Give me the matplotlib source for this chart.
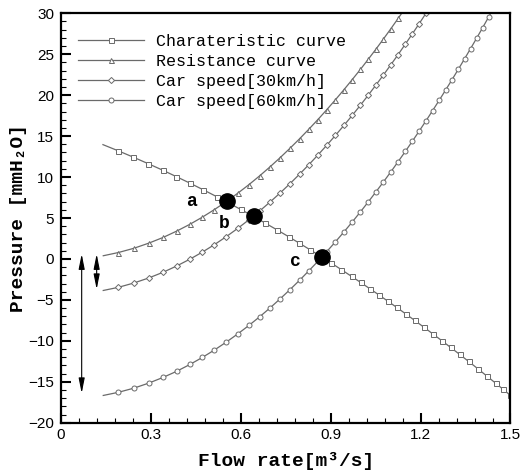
import matplotlib
matplotlib.use("Agg")
import matplotlib.pyplot as plt
from matplotlib.lines import Line2D
from matplotlib.ticker import MultipleLocator

# Values
char_flow = [0.14, 0.19, 0.24, 0.29, 0.34, 0.385, 0.43, 0.475, 0.52, 0.56,
             0.60, 0.64, 0.68, 0.72, 0.76, 0.795, 0.83, 0.865, 0.90, 0.935,
             0.97, 1.00, 1.03, 1.06, 1.09, 1.12, 1.15, 1.18, 1.21, 1.24,
             1.27, 1.30, 1.33, 1.36, 1.39, 1.42, 1.45, 1.475, 1.50]
char_press = [13.96, 13.22, 12.45, 11.65, 10.83, 10.05, 9.26, 8.44, 7.60, 6.83,
              6.04, 5.24, 4.41, 3.57, 2.71, 1.93, 1.15, 0.35, -0.46, -1.29,
              -2.14, -2.87, -3.62, -4.37, -5.14, -5.91, -6.70, -7.50, -8.31, -9.13,
              -9.96, -10.80, -11.65, -12.51, -13.38, -14.27, -15.16, -15.91, -16.67]

flow = [0.141, 0.191, 0.243, 0.293, 0.341, 0.386, 0.430, 0.472, 0.512, 0.551,
        0.590, 0.627, 0.663, 0.697, 0.731, 0.764, 0.796, 0.827, 0.857, 0.887,
        0.916, 0.944, 0.972, 0.999, 1.025, 1.051, 1.076, 1.101, 1.125, 1.149,
        1.172, 1.195, 1.218, 1.240, 1.262, 1.284, 1.305, 1.326, 1.347, 1.367,
        1.387, 1.407, 1.427, 1.447]

resist_press = [0.39, 0.78, 1.30, 1.93, 2.63, 3.40, 4.23, 5.11, 6.03, 6.99,
                8.03, 9.07, 10.15, 11.23, 12.36, 13.51, 14.67, 15.84, 17.01, 18.23,
                19.45, 20.66, 21.91, 23.14, 24.37, 25.62, 26.86, 28.13, 29.37, 30.64]

car30_press = [-3.85, -3.47, -2.94, -2.32, -1.62, -0.86, -0.03, 0.84, 1.75, 2.71,
               3.74, 4.78, 5.86, 6.93, 8.05, 9.19, 10.35, 11.51, 12.68, 13.89,
               15.10, 16.30, 17.54, 18.77, 19.99, 21.24, 22.47, 23.73, 24.96, 26.23,
               27.46, 28.72, 30.00, 31.25]

car60_press = [-16.67, -16.29, -15.78, -15.16, -14.46, -13.72, -12.89, -12.02, -11.12, -10.17,
               -9.15, -8.12, -7.06, -6.00, -4.88, -3.75, -2.61, -1.45, -0.30, 0.90,
               2.10, 3.29, 4.52, 5.74, 6.95, 8.19, 9.41, 10.65, 11.88, 13.13,
               14.35, 15.60, 16.87, 18.11, 19.37, 20.66, 21.90, 23.17, 24.46, 25.70,
               26.96, 28.24, 29.54, 30.86]

# operating points a, b, c
op_labels = ["a", "b", "c"]
op_flow = [0.553, 0.643, 0.870]
op_press = [7.05, 5.2, 0.22]
op_text_flow = [0.436, 0.545, 0.781]
op_text_press = [7.0, 4.35, -0.35]

# pressure offsets shown by arrows: (flow, top, bottom)
arrows = [(0.069, 0.6, -16.4), (0.119, 0.6, -3.7)]

curves = [
    ("Charateristic curve", char_flow, char_press, "s"),
    ("Resistance curve", flow[:len(resist_press)], resist_press, "^"),
    ("Car speed[30km/h]", flow[:len(car30_press)], car30_press, "D"),
    ("Car speed[60km/h]", flow[:len(car60_press)], car60_press, "o"),
]

mono = ["Liberation Mono", "DejaVu Sans Mono"]
gray = "#6a6a6a"

fig = plt.figure(figsize=(5.3, 4.73), dpi=100)
ax = fig.add_axes([0.1151, 0.1063, 0.8481, 0.8656])

handles = []
for label, xs, ys, mk in curves:
    ms = 3.6 if mk != "D" else 3.1
    ax.plot(xs, ys, color=gray, lw=0.9, marker=mk, ms=ms, mfc="white",
            mec=gray, mew=0.7, markevery=slice(1, None), zorder=2)
    handles.append(Line2D([], [], color=gray, lw=0.9, marker=mk, ms=ms,
                          mfc="white", mec=gray, mew=0.7))

ax.plot(op_flow, op_press, "o", color="black", ms=11, zorder=4)
for lab, tx, ty in zip(op_labels, op_text_flow, op_text_press):
    ax.text(tx, ty, lab, family=mono, fontsize=13, fontweight="bold",
            ha="center", va="center", zorder=5)

for ax_x, top, bot in arrows:
    ax.annotate("", xy=(ax_x, top), xytext=(ax_x, bot),
                arrowprops=dict(arrowstyle="<|-|>,head_width=0.18,head_length=0.9",
                                color="black", lw=0.8, shrinkA=0, shrinkB=0))

ax.set_xlim(0, 1.5)
ax.set_ylim(-20, 30)
ax.xaxis.set_major_locator(MultipleLocator(0.3))
ax.xaxis.set_minor_locator(MultipleLocator(0.06))
ax.yaxis.set_major_locator(MultipleLocator(5))
ax.yaxis.set_minor_locator(MultipleLocator(1))
ax.xaxis.set_major_formatter(plt.FuncFormatter(lambda v, p: "0" if abs(v) < 1e-9 else f"{v:g}"))

ax.tick_params(which="both", direction="in", top=False, right=False,
               labelsize=11, color="black")
ax.tick_params(which="major", length=7, width=1.5)
ax.tick_params(which="minor", length=3.5, width=0.8)
ax.tick_params(axis="y", pad=5)
ax.tick_params(axis="x", pad=4)
for lbl in ax.get_xticklabels() + ax.get_yticklabels():
    lbl.set_family(["Liberation Sans", "DejaVu Sans"])
for sp in ax.spines.values():
    sp.set_linewidth(1.6)

ax.set_xlabel("Flow rate[m\u00b3/s]", family=mono, fontsize=14,
              fontweight="bold", labelpad=7)
ax.set_ylabel("Pressure [mmH\u2082O]", family=mono, fontsize=14,
              fontweight="bold", labelpad=1)

leg = ax.legend(handles, [c[0] for c in curves], loc="upper left",
                bbox_to_anchor=(0.0, 0.99), frameon=False, handlelength=4.0,
                handletextpad=0.7, labelspacing=0.3, borderaxespad=0.6,
                prop={"family": mono, "size": 12})

fig.savefig("out.png", dpi=100)
